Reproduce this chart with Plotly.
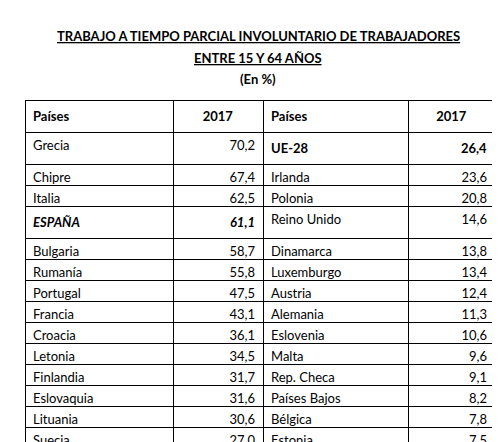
import plotly.graph_objects as go

paises_izq = ["Grecia","Chipre","Italia","<b><i>ESPAÑA</i></b>","Bulgaria","Rumanía","Portugal","Francia","Croacia","Letonia","Finlandia","Eslovaquia","Lituania","Suecia","Hungría"]
valores_izq = ["70,2","67,4","62,5","<b><i>61,1</i></b>","58,7","55,8","47,5","43,1","36,1","34,5","31,7","31,6","30,6","27,0","26,8"]
paises_der = ["<b>UE-28</b>","Irlanda","Polonia","Reino Unido","Dinamarca","Luxemburgo","Austria","Alemania","Eslovenia","Malta","Rep. Checa","Países Bajos","Bélgica","Estonia",""]
valores_der = ["<b>26,4</b>","23,6","20,8","14,6","13,8","13,4","12,4","11,3","10,6","9,6","9,1","8,2","7,8","7,5",""]
encabezados = ["<b>Países</b>","<b>2017</b>","<b>Países</b>","<b>2017</b>"]

F = "Lato"
fig = go.Figure(go.Table(
    domain=dict(x=[17/500, 487/500], y=[0, 1-92/442]),
    columnwidth=[148, 90, 145, 87],
    header=dict(values=encabezados, align=["left","center","left","center"],
                line=dict(color="black", width=1), fill=dict(color="white"),
                font=dict(family=F, size=13, color="black"), height=21),
    cells=dict(values=[paises_izq, valores_izq, paises_der, valores_der],
               align=["left","right","left","right"],
               line=dict(color="black", width=1), fill=dict(color="white"),
               font=dict(family=F, size=13, color="black"), height=21),
))
fig.update_layout(
    width=500, height=442, margin=dict(l=0, r=0, t=0, b=0),
    paper_bgcolor="white",
    annotations=[
        dict(text="<b><u>TRABAJO A TIEMPO PARCIAL INVOLUNTARIO DE TRABAJADORES</u></b>", x=0.5, y=1-18/442,
             xref="paper", yref="paper", showarrow=False, font=dict(family=F, size=13, color="black")),
        dict(text="<b><u>ENTRE 15 Y 64 AÑOS</u></b>", x=0.5, y=1-40/442,
             xref="paper", yref="paper", showarrow=False, font=dict(family=F, size=13, color="black")),
        dict(text="<b>(En %)</b>", x=0.5, y=1-61/442,
             xref="paper", yref="paper", showarrow=False, font=dict(family=F, size=13, color="black")),
    ],
)
fig.write_html("out.html")
